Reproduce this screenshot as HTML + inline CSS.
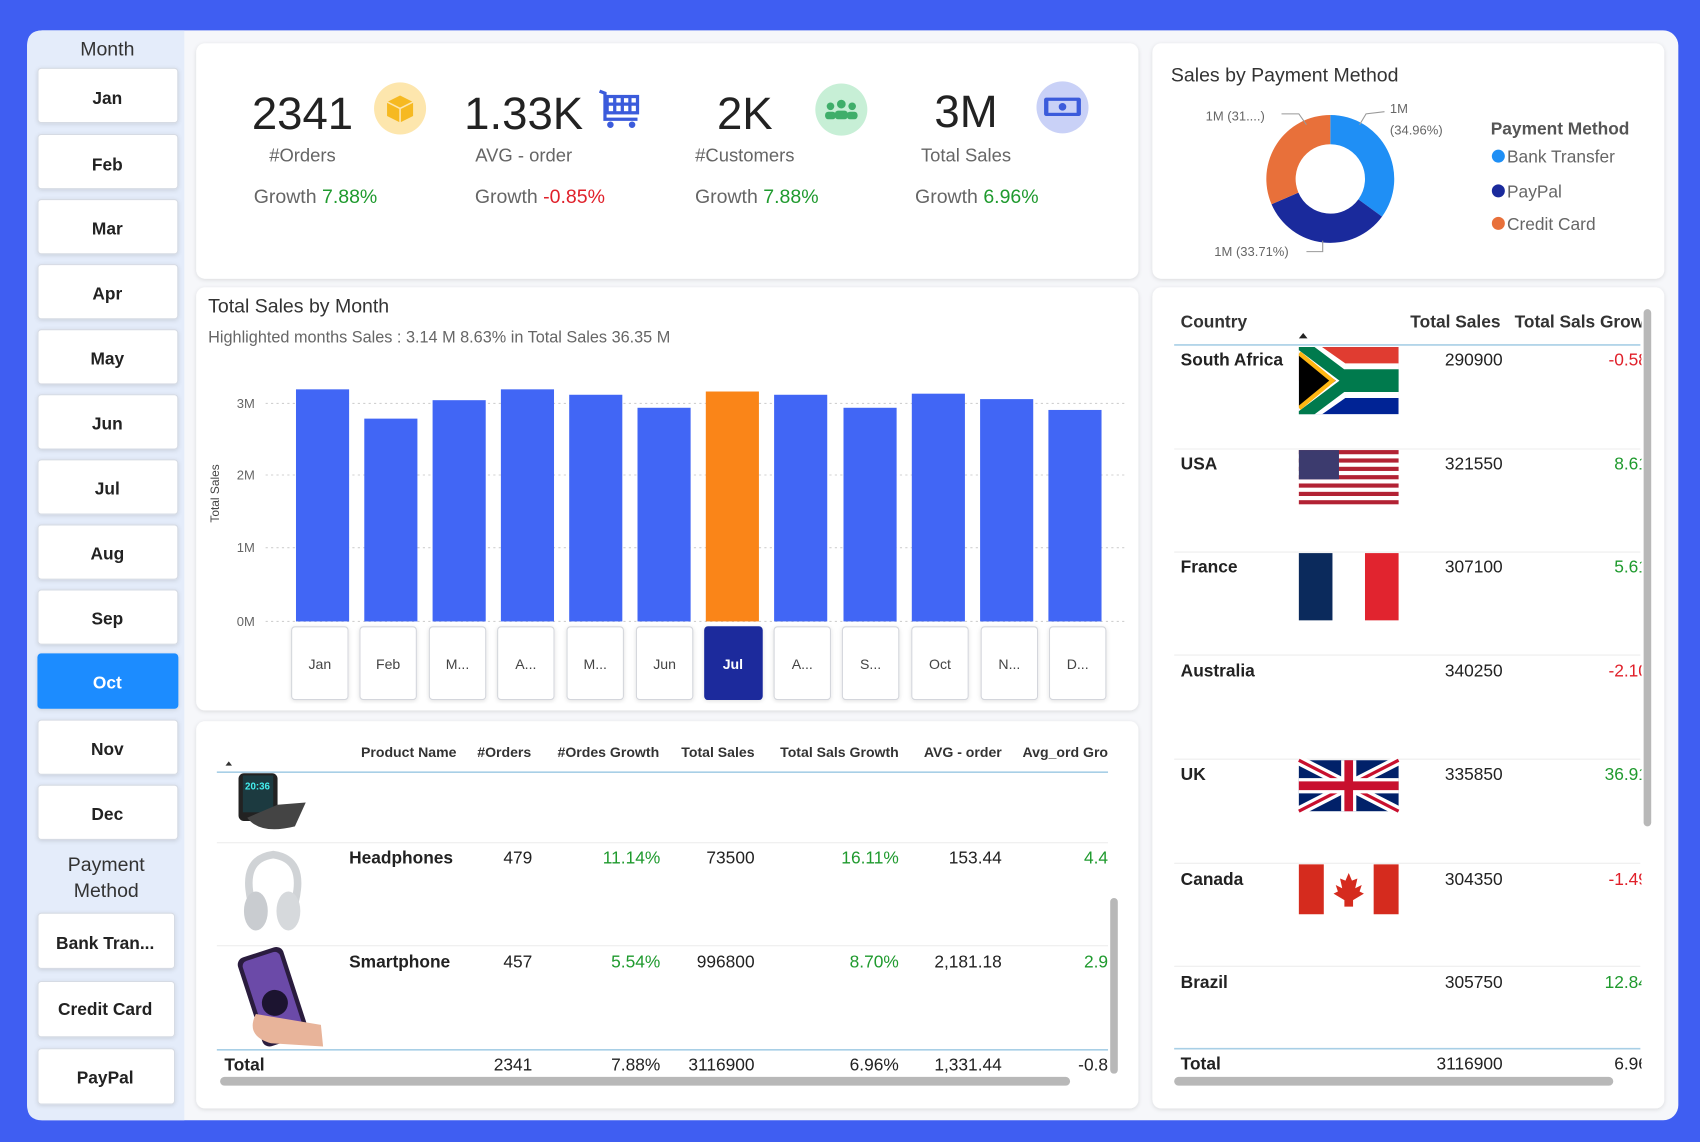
<!DOCTYPE html>
<html><head><meta charset="utf-8"><style>
html,body{margin:0;padding:0;background:#3f5ef2;}
svg{display:block;font-family:"Liberation Sans",sans-serif;}
</style></head><body>
<svg width="1700" height="1142" viewBox="0 0 1568 1053" preserveAspectRatio="none" xmlns="http://www.w3.org/2000/svg">
<defs>
<filter id="sh" x="-5%" y="-5%" width="110%" height="110%"><feDropShadow dx="0" dy="1" stdDeviation="2" flood-color="#000" flood-opacity="0.12"/></filter>
<clipPath id="saclip"><rect width="92" height="62"/></clipPath>
</defs>
<rect width="1568" height="1053" fill="#3f5ef2"/>
<rect x="25" y="28" width="1523" height="1005" rx="14" fill="#f6f7fa"/>
<path d="M39 28 H170 V1033 H39 Q25 1033 25 1019 V42 Q25 28 39 28Z" fill="#e4ecfa"/>
<!-- sidebar -->
<g font-size="18" fill="#333" text-anchor="middle">
<text x="99" y="51">Month</text>
</g>
<g font-size="16" font-weight="bold" fill="#222" text-anchor="middle">
<g filter="url(#sh)" fill="#fff" stroke="#d6dbe4">
<rect x="35" y="63" width="129" height="50" rx="3"/><rect x="35" y="124" width="129" height="50" rx="3"/>
<rect x="35" y="184" width="129" height="50" rx="3"/><rect x="35" y="244" width="129" height="50" rx="3"/>
<rect x="35" y="304" width="129" height="50" rx="3"/><rect x="35" y="364" width="129" height="50" rx="3"/>
<rect x="35" y="424" width="129" height="50" rx="3"/><rect x="35" y="484" width="129" height="50" rx="3"/>
<rect x="35" y="544" width="129" height="50" rx="3"/><rect x="35" y="603" width="129" height="50" rx="3" fill="#1a8cff" stroke="#1a8cff"/>
<rect x="35" y="664" width="129" height="50" rx="3"/><rect x="35" y="724" width="129" height="50" rx="3"/>
<rect x="35" y="842" width="126" height="51" rx="3"/><rect x="35" y="905" width="126" height="51" rx="3"/>
<rect x="35" y="967" width="126" height="51" rx="3"/>
</g>
<text x="99" y="96">Jan</text><text x="99" y="157">Feb</text><text x="99" y="216">Mar</text><text x="99" y="276">Apr</text>
<text x="99" y="336">May</text><text x="99" y="396">Jun</text><text x="99" y="456">Jul</text><text x="99" y="516">Aug</text>
<text x="99" y="576">Sep</text><text x="99" y="635" fill="#fff">Oct</text><text x="99" y="696">Nov</text><text x="99" y="756">Dec</text>
<text x="97" y="875">Bank Tran...</text><text x="97" y="936">Credit Card</text><text x="97" y="999">PayPal</text>
</g>
<g font-size="18" fill="#333" text-anchor="middle"><text x="98" y="803">Payment</text><text x="98" y="827">Method</text></g>

<!-- cards -->
<g fill="#fff" filter="url(#sh)">
<rect x="181" y="40" width="869" height="217" rx="8"/>
<rect x="181" y="265" width="869" height="390" rx="8"/>
<rect x="181" y="665" width="869" height="357" rx="8"/>
<rect x="1063" y="40" width="472" height="217" rx="8"/>
<rect x="1063" y="265" width="472" height="757" rx="8"/>
</g>

<!-- KPIs -->
<g font-size="42" fill="#222" text-anchor="middle">
<text x="279" y="119">2341</text><text x="483" y="119">1.33K</text><text x="687" y="119">2K</text><text x="891" y="117">3M</text>
</g>
<g font-size="17" fill="#666" text-anchor="middle">
<text x="279" y="149">#Orders</text><text x="483" y="149">AVG - order</text><text x="687" y="149">#Customers</text><text x="891" y="149">Total Sales</text>
</g>
<g font-size="18" fill="#666" text-anchor="middle">
<text x="291" y="187">Growth <tspan fill="#1f9a2e">7.88%</tspan></text>
<text x="498" y="187">Growth <tspan fill="#e0202a">-0.85%</tspan></text>
<text x="698" y="187">Growth <tspan fill="#1f9a2e">7.88%</tspan></text>
<text x="901" y="187">Growth <tspan fill="#1f9a2e">6.96%</tspan></text>
</g>
<circle cx="369" cy="100" r="24" fill="#fde6ad"/>
<path d="M357 94 L369 88 L381 94 L381 107 L369 113 L357 107Z" fill="#f6b921"/><path d="M357 94 L369 100 L381 94 M369 100 V113" stroke="#fde6ad" stroke-width="1.5" fill="none"/>
<g stroke="#3b5bdb" stroke-width="3" fill="none"><path d="M553 84 L558 86 L558 110 L588 110"/><rect x="560" y="89" width="28" height="15"/><path d="M567 89V104M574 89V104M581 89V104M560 96H588"/></g>
<circle cx="563" cy="115" r="3" fill="#3b5bdb"/><circle cx="583" cy="115" r="3" fill="#3b5bdb"/>
<circle cx="776" cy="101" r="24" fill="#c7efd6"/>
<g fill="#3fae6a"><circle cx="776" cy="96" r="4"/><circle cx="766" cy="98" r="3.5"/><circle cx="786" cy="98" r="3.5"/><rect x="770" y="102" width="12" height="8" rx="3"/><rect x="761" y="103" width="10" height="7" rx="3"/><rect x="781" y="103" width="10" height="7" rx="3"/></g>
<circle cx="980" cy="99" r="24" fill="#c9d1f7"/>
<rect x="963" y="90" width="34" height="17" rx="2" fill="#3b5bdb"/><rect x="967" y="93" width="26" height="11" fill="#c9d1f7"/><circle cx="980" cy="98.5" r="3.5" fill="#3b5bdb"/>

<!-- bar chart -->
<text x="192" y="288" font-size="18" fill="#333">Total Sales by Month</text>
<text x="192" y="316" font-size="15" fill="#666">Highlighted months Sales : 3.14 M  8.63% in Total Sales  36.35 M</text>
<g stroke="#d0d0d0" stroke-dasharray="2,3"><line x1="245" y1="372" x2="1040" y2="372"/><line x1="245" y1="438" x2="1040" y2="438"/><line x1="245" y1="505" x2="1040" y2="505"/><line x1="245" y1="573" x2="1040" y2="573"/></g>
<g font-size="12" fill="#666" text-anchor="end"><text x="235" y="376">3M</text><text x="235" y="442">2M</text><text x="235" y="509">1M</text><text x="235" y="577">0M</text></g>
<text transform="translate(202,455) rotate(-90)" font-size="11" fill="#444" text-anchor="middle">Total Sales</text>
<g fill="#4166f5">
<rect x="273" y="359" width="49" height="214"/><rect x="336" y="386" width="49" height="187"/><rect x="399" y="369" width="49" height="204"/>
<rect x="462" y="359" width="49" height="214"/><rect x="525" y="364" width="49" height="209"/><rect x="588" y="376" width="49" height="197"/>
<rect x="651" y="361" width="49" height="212" fill="#fa8518"/><rect x="714" y="364" width="49" height="209"/><rect x="778" y="376" width="49" height="197"/>
<rect x="841" y="363" width="49" height="210"/><rect x="904" y="368" width="49" height="205"/><rect x="967" y="378" width="49" height="195"/>
</g>
<g fill="#fff" stroke="#d4d6dc" filter="url(#sh)">
<rect x="269" y="578" width="52" height="67" rx="3"/><rect x="332" y="578" width="52" height="67" rx="3"/><rect x="396" y="578" width="52" height="67" rx="3"/>
<rect x="459" y="578" width="52" height="67" rx="3"/><rect x="523" y="578" width="52" height="67" rx="3"/><rect x="587" y="578" width="52" height="67" rx="3"/>
<rect x="650" y="578" width="53" height="67" rx="3" fill="#1a2a9c" stroke="#1a2a9c"/><rect x="714" y="578" width="52" height="67" rx="3"/><rect x="777" y="578" width="52" height="67" rx="3"/>
<rect x="841" y="578" width="52" height="67" rx="3"/><rect x="905" y="578" width="52" height="67" rx="3"/><rect x="968" y="578" width="52" height="67" rx="3"/>
</g>
<g font-size="13" fill="#444" text-anchor="middle">
<text x="295" y="617">Jan</text><text x="358" y="617">Feb</text><text x="422" y="617">M...</text><text x="485" y="617">A...</text>
<text x="549" y="617">M...</text><text x="613" y="617">Jun</text><text x="676" y="617" fill="#fff" font-weight="bold">Jul</text><text x="740" y="617">A...</text>
<text x="803" y="617">S...</text><text x="867" y="617">Oct</text><text x="931" y="617">N...</text><text x="994" y="617">D...</text>
</g>

<!-- product table -->
<g font-size="13" font-weight="bold" fill="#333" text-anchor="end">
<text x="421" y="698">Product Name</text><text x="490" y="698">#Orders</text><text x="608" y="698">#Ordes Growth</text><text x="696" y="698">Total Sales</text>
<text x="829" y="698">Total Sals Growth</text><text x="924" y="698">AVG - order</text><text x="1022" y="698" text-anchor="end">Avg_ord Gro</text>
</g>
<path d="M208 706 l3 -4 l3 4z" fill="#333"/>
<line x1="200" y1="712" x2="1022" y2="712" stroke="#a8cfe6" stroke-width="1.5"/>
<line x1="200" y1="777" x2="1022" y2="777" stroke="#eee"/><line x1="200" y1="872" x2="1022" y2="872" stroke="#eee"/>
<line x1="200" y1="968" x2="1022" y2="968" stroke="#a8cfe6" stroke-width="1.5"/>
<!-- watch -->
<rect x="220" y="713" width="36" height="44" rx="5" fill="#222"/><rect x="224" y="715" width="28" height="34" fill="#1c3a40"/><path d="M228 754 Q240 770 272 762 L282 740 L256 742" fill="#444"/>
<text x="226" y="728" font-size="9" fill="#4ee" font-weight="bold">20:36</text>
<!-- headphones -->
<path d="M232 832 Q222 792 252 788 Q282 792 272 832" fill="none" stroke="#d0d3d6" stroke-width="7"/>
<ellipse cx="236" cy="840" rx="11" ry="18" fill="#c9ccd0"/><ellipse cx="266" cy="840" rx="11" ry="18" fill="#d6d9dc"/>
<!-- smartphone -->
<g transform="rotate(-18 252 920)"><rect x="230" y="876" width="44" height="86" rx="7" fill="#2a1c3e"/><rect x="234" y="880" width="36" height="78" rx="5" fill="#6b4aa8"/><circle cx="252" cy="925" r="12" fill="#1c1430"/></g>
<path d="M236 935 Q226 955 250 962 L298 965 L296 945 Z" fill="#e8b49a"/>
<g font-size="16" fill="#222" text-anchor="end">
<text x="322" y="796" text-anchor="start" font-weight="bold">Headphones</text><text x="491" y="796">479</text><text x="609" y="796" fill="#1f9a2e">11.14%</text>
<text x="696" y="796">73500</text><text x="829" y="796" fill="#1f9a2e">16.11%</text><text x="924" y="796">153.44</text><text x="1022" y="796" fill="#1f9a2e">4.4</text>
<text x="322" y="892" text-anchor="start" font-weight="bold">Smartphone</text><text x="491" y="892">457</text><text x="609" y="892" fill="#1f9a2e">5.54%</text>
<text x="696" y="892">996800</text><text x="829" y="892" fill="#1f9a2e">8.70%</text><text x="924" y="892">2,181.18</text><text x="1022" y="892" fill="#1f9a2e">2.9</text>
<text x="207" y="987" text-anchor="start" font-weight="bold">Total</text><text x="491" y="987">2341</text><text x="609" y="987">7.88%</text>
<text x="696" y="987">3116900</text><text x="829" y="987">6.96%</text><text x="924" y="987">1,331.44</text><text x="1022" y="987">-0.8</text>
</g>
<rect x="203" y="993" width="784" height="8" rx="4" fill="#b8b8b8"/>
<rect x="1024" y="828" width="7" height="162" rx="3.5" fill="#b8b8b8"/>

<!-- donut -->
<text x="1080" y="75" font-size="18" fill="#333">Sales by Payment Method</text>
<g transform="translate(1227,165)">
<path d="M0 -59 A59 59 0 0 1 47.7 34.7 L25.9 18.8 A32 32 0 0 0 0 -32Z" fill="#1f8ff5"/>
<path d="M47.7 34.7 A59 59 0 0 1 -54.2 23.3 L-29.4 12.6 A32 32 0 0 0 25.9 18.8Z" fill="#1a2a9c"/>
<path d="M-54.2 23.3 A59 59 0 0 1 0 -59 L0 -32 A32 32 0 0 0 -29.4 12.6Z" fill="#e8703a"/>
</g>
<g stroke="#999" fill="none"><path d="M1182 105 H1198 L1205 115"/><path d="M1277 103 L1260 105 L1254 115"/><path d="M1205 232 H1220 V222"/></g>
<g font-size="12" fill="#666"><text x="1112" y="111">1M (31....)</text><text x="1282" y="104">1M</text><text x="1282" y="124">(34.96%)</text><text x="1120" y="236">1M (33.71%)</text></g>
<text x="1375" y="124" font-size="16" font-weight="bold" fill="#555">Payment Method</text>
<g font-size="16" fill="#666">
<circle cx="1382" cy="144" r="6" fill="#1f8ff5"/><text x="1390" y="150">Bank Transfer</text>
<circle cx="1382" cy="176" r="6" fill="#1a2a9c"/><text x="1390" y="182">PayPal</text>
<circle cx="1382" cy="206" r="6" fill="#e8703a"/><text x="1390" y="212">Credit Card</text>
</g>

<!-- country table -->
<g font-size="16" font-weight="bold" fill="#333">
<text x="1089" y="302">Country</text><text x="1384" y="302" text-anchor="end">Total Sales</text><text x="1397" y="302">Total Sals Grow</text>
</g>
<rect x="1514" y="285" width="20" height="20" fill="#fff"/>
<path d="M1198 312 l4 -5 l4 5z" fill="#222"/>
<line x1="1083" y1="318" x2="1513" y2="318" stroke="#a8cfe6" stroke-width="1.5"/>
<g stroke="#eee"><line x1="1083" y1="414" x2="1513" y2="414"/><line x1="1083" y1="509" x2="1513" y2="509"/><line x1="1083" y1="604" x2="1513" y2="604"/><line x1="1083" y1="700" x2="1513" y2="700"/><line x1="1083" y1="796" x2="1513" y2="796"/><line x1="1083" y1="891" x2="1513" y2="891"/></g>
<line x1="1083" y1="967" x2="1513" y2="967" stroke="#a8cfe6" stroke-width="1.5"/>
<!-- flags -->
<g transform="translate(1198,320)"><g clip-path="url(#saclip)">
<rect width="92" height="62" fill="#002395"/><rect width="92" height="31" fill="#e03c31"/>
<path d="M0 -4 L40 24 H92 V38 H40 L0 66" stroke="#fff" stroke-width="18" fill="none"/>
<path d="M0 -4 L40 26 H92 V36 H40 L0 66" stroke="#007a4d" stroke-width="11" fill="none"/>
<path d="M0 6 L30 31 L0 56" stroke="#ffb612" stroke-width="5" fill="none"/>
<path d="M0 8 L28 31 L0 54Z" fill="#000"/>
</g></g>
<g transform="translate(1198,415)">
<rect width="92" height="50" fill="#fff"/>
<g fill="#b22234"><rect y="0" width="92" height="3.85"/><rect y="7.7" width="92" height="3.85"/><rect y="15.4" width="92" height="3.85"/><rect y="23.1" width="92" height="3.85"/><rect y="30.8" width="92" height="3.85"/><rect y="38.5" width="92" height="3.85"/><rect y="46.2" width="92" height="3.8"/></g>
<rect width="37" height="27" fill="#3c3b6e"/>
</g>
<g transform="translate(1198,510)"><rect width="92" height="62" fill="#fff"/><rect width="31" height="62" fill="#0b2a5c"/><rect x="61" width="31" height="62" fill="#e1242f"/></g>
<g transform="translate(1198,701)">
<rect width="92" height="47" fill="#012169"/>
<path d="M0 0L92 47M92 0L0 47" stroke="#fff" stroke-width="9"/><path d="M0 0L92 47M92 0L0 47" stroke="#c8102e" stroke-width="3"/>
<path d="M46 0V47M0 23.5H92" stroke="#fff" stroke-width="14"/><path d="M46 0V47M0 23.5H92" stroke="#c8102e" stroke-width="8"/>
</g>
<g transform="translate(1198,797)"><rect width="92" height="46" fill="#fff"/><rect width="23" height="46" fill="#d52b1e"/><rect x="69" width="23" height="46" fill="#d52b1e"/>
<path d="M46 8 L49 15 L54 13 L52 22 L58 19 L56 25 L60 27 L50 33 L50 39 H42 L42 33 L32 27 L36 25 L34 19 L40 22 L38 13 L43 15Z" fill="#d52b1e"/></g>
<g font-size="16" fill="#222">
<g font-weight="bold"><text x="1089" y="337">South Africa</text><text x="1089" y="433">USA</text><text x="1089" y="528">France</text><text x="1089" y="624">Australia</text><text x="1089" y="719">UK</text><text x="1089" y="816">Canada</text><text x="1089" y="911">Brazil</text><text x="1089" y="986">Total</text></g>
<g text-anchor="end"><text x="1386" y="337">290900</text><text x="1386" y="433">321550</text><text x="1386" y="528">307100</text><text x="1386" y="624">340250</text><text x="1386" y="719">335850</text><text x="1386" y="816">304350</text><text x="1386" y="911">305750</text><text x="1386" y="986">3116900</text></g>
<g text-anchor="end"><text x="1520" y="337" fill="#e0202a">-0.58</text><text x="1520" y="433" fill="#1f9a2e">8.61</text><text x="1520" y="528" fill="#1f9a2e">5.61</text><text x="1520" y="624" fill="#e0202a">-2.10</text><text x="1520" y="719" fill="#1f9a2e">36.91</text><text x="1520" y="816" fill="#e0202a">-1.49</text><text x="1520" y="911" fill="#1f9a2e">12.84</text><text x="1520" y="986">6.96</text></g>
</g>
<rect x="1514" y="306" width="20" height="690" fill="#fff"/>
<rect x="1516" y="285" width="7" height="477" rx="3.5" fill="#b8b8b8"/>
<rect x="1083" y="993" width="405" height="8" rx="4" fill="#b8b8b8"/>
</svg>
</body></html>
